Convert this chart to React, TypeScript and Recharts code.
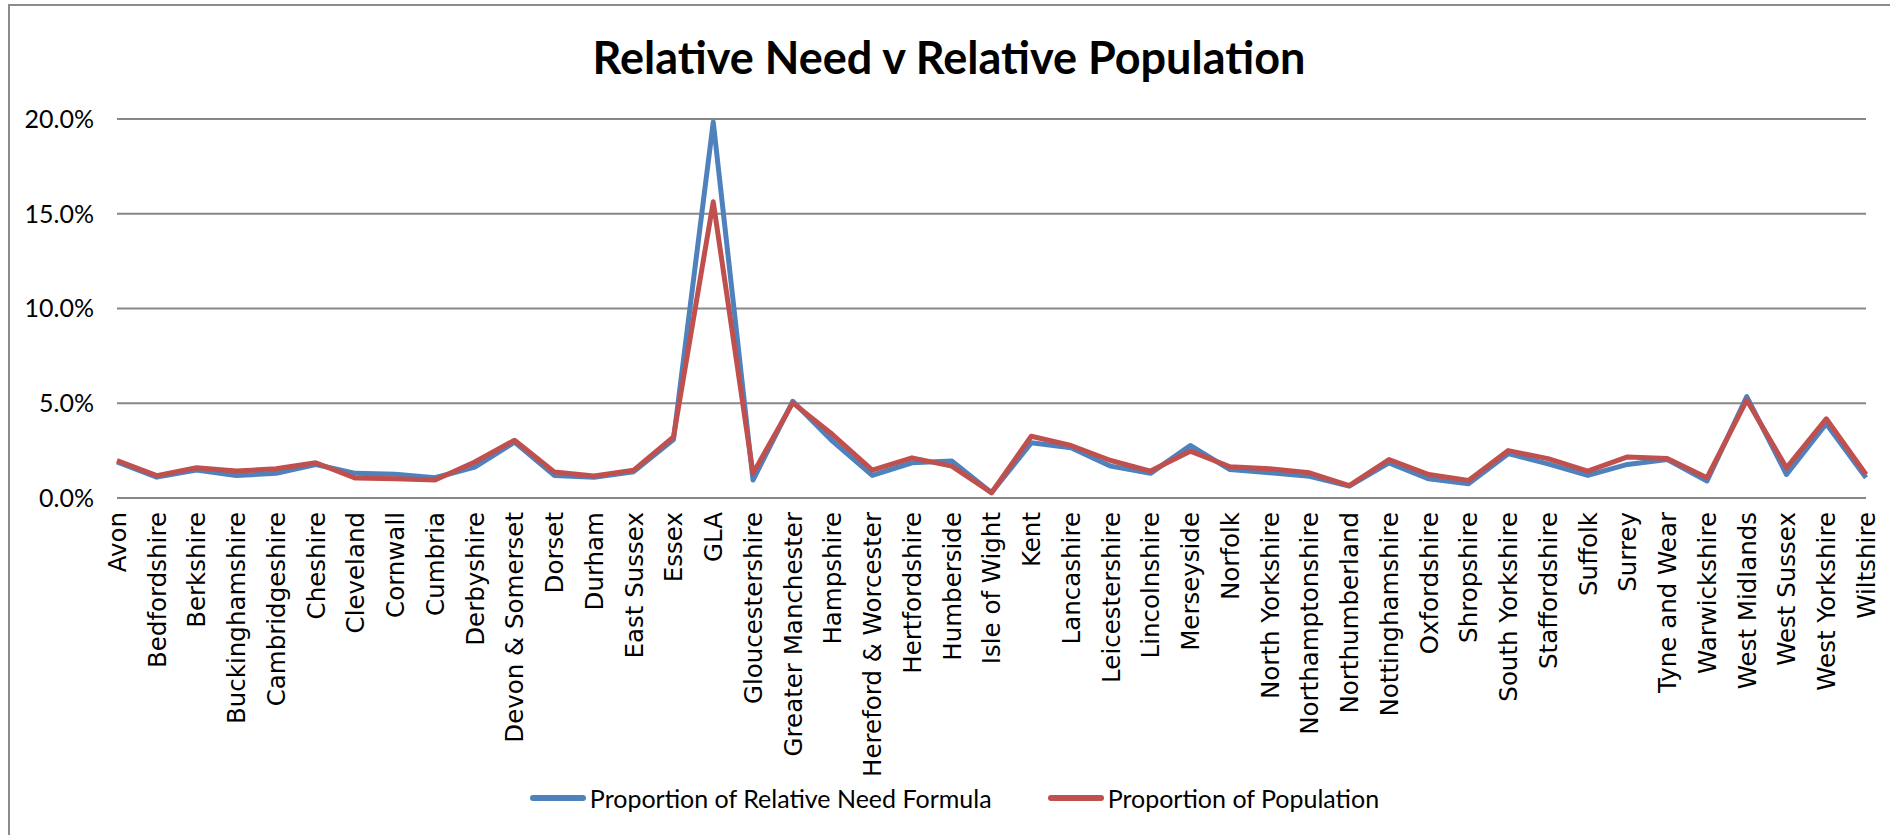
import React from "react";
import { LineChart, Line, XAxis, YAxis, CartesianGrid, Legend } from "recharts";

const categories = [
  "Avon", "Bedfordshire", "Berkshire", "Buckinghamshire", "Cambridgeshire", "Cheshire",
  "Cleveland", "Cornwall", "Cumbria", "Derbyshire", "Devon & Somerset", "Dorset", "Durham",
  "East Sussex", "Essex", "GLA", "Gloucestershire", "Greater Manchester", "Hampshire",
  "Hereford & Worcester", "Hertfordshire", "Humberside", "Isle of Wight", "Kent", "Lancashire",
  "Leicestershire", "Lincolnshire", "Merseyside", "Norfolk", "North Yorkshire",
  "Northamptonshire", "Northumberland", "Nottinghamshire", "Oxfordshire", "Shropshire",
  "South Yorkshire", "Staffordshire", "Suffolk", "Surrey", "Tyne and Wear", "Warwickshire",
  "West Midlands", "West Sussex", "West Yorkshire", "Wiltshire",
];

const needValues = [
  1.9, 1.1, 1.47, 1.19, 1.3, 1.77, 1.3, 1.25, 1.07, 1.63, 2.95, 1.19, 1.1, 1.39, 3.09,
  19.84, 0.95, 5.1, 3.0, 1.19, 1.86, 1.95, 0.28, 2.91, 2.65, 1.68, 1.3, 2.77, 1.5, 1.33,
  1.15, 0.63, 1.85, 1.01, 0.75, 2.34, 1.8, 1.19, 1.77, 2.03, 0.9, 5.35, 1.24, 3.92, 1.07,
];

const popValues = [
  1.98, 1.18, 1.6, 1.42, 1.54, 1.86, 1.05, 1.02, 0.95, 1.9, 3.05, 1.37, 1.16, 1.47, 3.23,
  15.63, 1.3, 5.02, 3.35, 1.47, 2.12, 1.68, 0.28, 3.26, 2.77, 1.98, 1.42, 2.47, 1.65, 1.54,
  1.33, 0.65, 2.03, 1.24, 0.93, 2.5, 2.08, 1.42, 2.17, 2.08, 1.07, 5.17, 1.59, 4.18, 1.24,
];

const yTicks = [0, 5, 10, 15, 20];
const seriesNames = ["Proportion of Relative Need Formula", "Proportion of Population"];
const seriesColors = ["#4F81BD", "#C0504D"];
const titleText = "Relative Need v Relative Population";

const data = categories.map((c, i) => ({ name: c, need: needValues[i], pop: popValues[i] }));

const XTick = (props: any) => {
  const { x, y, payload } = props;
  return (
    <text
      x={x}
      y={y}
      transform={`rotate(-90, ${x}, ${y})`}
      textAnchor="end"
      dy="0.36em"
      style={{ fontFamily: "'DejaVu Sans'" }}
      fontSize={24.5}
      fill="#000"
    >
      {payload.value}
    </text>
  );
};

const LegendContent = () => (
  <div style={{ display: "flex", justifyContent: "center", alignItems: "center", height: 40, fontFamily: "Lato", fontSize: 25, color: "#000", paddingLeft: 26 }}>
    {seriesNames.map((n, i) => (
      <div key={n} style={{ display: "flex", alignItems: "center", marginLeft: i === 0 ? 0 : 56 }}>
        <div style={{ width: 56, height: 6, borderRadius: 3, background: seriesColors[i], marginRight: 4 }} />
        <span>{n}</span>
      </div>
    ))}
  </div>
);

export default function App() {
  return (
    <div style={{ position: "absolute", left: 0, top: 0, width: 1890, height: 835, background: "#fff", overflow: "hidden" }}>
      <div style={{ position: "absolute", left: 8, top: 4, width: 1900, height: 900, border: "2px solid #8c8c8c", boxSizing: "border-box" }} />
      <div style={{ position: "absolute", left: 8, width: 1882, top: 30, textAlign: "center", fontFamily: "Lato", fontWeight: 700, fontSize: 45, lineHeight: "54px", color: "#000" }}>
        {titleText}
      </div>
      <div style={{ position: "absolute", left: 0, top: 0 }}>
        <LineChart width={1890} height={835} data={data} margin={{ top: 119, right: 24, left: 17, bottom: 17 }}>
          <CartesianGrid vertical={false} stroke="#878787" strokeWidth={2} />
          <XAxis
            dataKey="name"
            interval={0}
            height={280}
            tick={<XTick />}
            tickLine={false}
            tickSize={0}
            tickMargin={14}
            axisLine={{ stroke: "#878787", strokeWidth: 2 }}
          />
          <YAxis
            width={100}
            domain={[0, 20]}
            ticks={yTicks}
            tickFormatter={(v: number) => `${v.toFixed(1)}%`}
            tickLine={false}
            axisLine={false}
            tickSize={0}
            tickMargin={23}
            tick={{ fontFamily: "Lato", fontSize: 25, fill: "#000" }}
          />
          <Line type="linear" dataKey="need" name={seriesNames[0]} stroke={seriesColors[0]} strokeWidth={5} dot={false} strokeLinejoin="round" isAnimationActive={false} />
          <Line type="linear" dataKey="pop" name={seriesNames[1]} stroke={seriesColors[1]} strokeWidth={5} dot={false} strokeLinejoin="round" isAnimationActive={false} />
          <Legend verticalAlign="bottom" height={40} content={<LegendContent />} />
        </LineChart>
      </div>
    </div>
  );
}
